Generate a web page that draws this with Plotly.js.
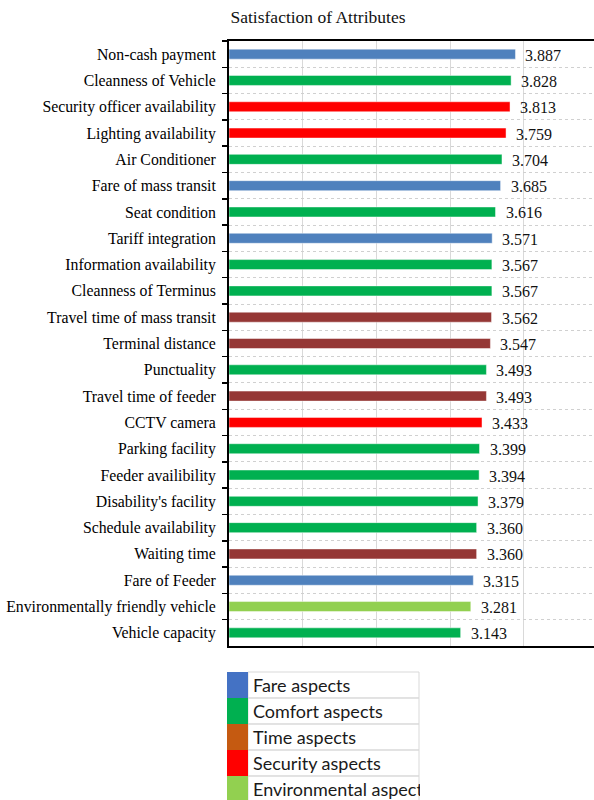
<!DOCTYPE html>
<html>
<head>
<meta charset="utf-8">
<script src="https://cdn.plot.ly/plotly-3.0.1.min.js"></script>
<style>
  html, body { margin: 0; padding: 0; background: #fff; }
  #chart { width: 594px; height: 800px; }
</style>
</head>
<body>
<div id="chart"></div>
<script>
// Attribute names, listed top to bottom
const attributes = [
  "Non-cash payment", "Cleanness of Vehicle", "Security officer availability",
  "Lighting availability", "Air Conditioner", "Fare of mass transit",
  "Seat condition", "Tariff integration", "Information availability",
  "Cleanness of Terminus", "Travel time of mass transit", "Terminal distance",
  "Punctuality", "Travel time of feeder", "CCTV camera", "Parking facility",
  "Feeder availibility", "Disability's facility", "Schedule availability",
  "Waiting time", "Fare of Feeder", "Environmentally friendly vehicle",
  "Vehicle capacity"
];

// Mean satisfaction score per attribute
const scores = [
  3.887, 3.828, 3.813, 3.759, 3.704, 3.685, 3.616, 3.571, 3.567, 3.567,
  3.562, 3.547, 3.493, 3.493, 3.433, 3.399, 3.394, 3.379, 3.360, 3.360,
  3.315, 3.281, 3.143
];

// Aspect group of each attribute
const aspects = [
  "Fare", "Comfort", "Security", "Security", "Comfort", "Fare", "Comfort",
  "Fare", "Comfort", "Comfort", "Time", "Time", "Comfort", "Time",
  "Security", "Comfort", "Comfort", "Comfort", "Comfort", "Time", "Fare",
  "Environmental", "Comfort"
];

// Legend entries
const legendLabels = ["Fare aspects", "Comfort aspects", "Time aspects", "Security aspects", "Environmental aspects"];

const barColors = {
  Fare: "#4f81bd",
  Comfort: "#00b050",
  Time: "#953735",
  Security: "#ff0000",
  Environmental: "#92d050"
};
const legendColors = ["#4472c4", "#00b050", "#c55a11", "#ff0000", "#92d050"];

const W = 594, H = 800;
const M = { l: 229, r: 0, t: 41, b: 154 };
const plotW = W - M.l - M.r;
const plotH = H - M.t - M.b;
const xMax = plotW / 73.7;

// pixel -> paper coordinate helpers for the legend block
const px = v => (v - M.l) / plotW;
const py = v => (H - M.b - v) / plotH;

const serif = "'Liberation Serif', 'Times New Roman', serif";
const sans = "Lato, 'Open Sans', sans-serif";

const trace = {
  type: "bar",
  orientation: "h",
  y: attributes,
  x: scores,
  marker: {
    color: aspects.map(a => barColors[a]),
    line: { color: "rgba(255,255,255,0.45)", width: 1 }
  },
  hoverinfo: "y+x",
  cliponaxis: false
};

const annotations = scores.map((v, i) => ({
  x: v,
  y: attributes[i],
  xref: "x",
  yref: "y",
  text: v.toFixed(3),
  showarrow: false,
  xanchor: "left",
  yanchor: "middle",
  xshift: 8,
  yshift: -1,
  font: { family: serif, size: 16, color: "#111" }
}));

const shapes = [];
legendLabels.forEach((lab, i) => {
  const top = 672 + 26 * i;
  const bot = top + 26;
  shapes.push({
    type: "rect", xref: "paper", yref: "paper",
    x0: px(248), x1: px(419), y0: py(top), y1: py(bot),
    line: { color: "#d9d9d9", width: 1 }, fillcolor: "rgba(0,0,0,0)", layer: "above"
  });
  shapes.push({
    type: "rect", xref: "paper", yref: "paper",
    x0: px(227), x1: px(248), y0: py(top), y1: py(bot),
    line: { width: 0 }, fillcolor: legendColors[i], layer: "above"
  });
  annotations.push({
    xref: "paper", yref: "paper",
    x: px(251), y: py(top + 13),
    xanchor: "left", yanchor: "middle",
    align: "left",
    text: lab, showarrow: false,
    font: { family: sans, size: 18, color: "#1a1a1a" }
  });
});

// the legend cell is narrower than its last label: mask the overflow
annotations.push({
  xref: "paper", yref: "paper",
  x: px(420), y: py(672 + 26 * 4 + 13),
  xanchor: "left", yanchor: "middle",
  text: " ", showarrow: false,
  width: 60, height: 26,
  bgcolor: "#ffffff", borderpad: 0, borderwidth: 0,
  font: { family: sans, size: 18 }
});

const layout = {
  width: W,
  height: H,
  margin: M,
  paper_bgcolor: "#ffffff",
  plot_bgcolor: "#ffffff",
  showlegend: false,
  bargap: 0.62,
  title: {
    text: "Satisfaction of Attributes",
    font: { family: serif, size: 17.5, color: "#111" },
    x: 318 / W,
    xanchor: "center",
    y: 1 - 17 / H,
    yanchor: "middle",
    xref: "container",
    yref: "container"
  },
  xaxis: {
    range: [0, xMax],
    dtick: 1,
    showticklabels: false,
    ticks: "",
    showgrid: true,
    gridcolor: "#d9d9d9",
    gridwidth: 1,
    zeroline: false,
    showline: true,
    linecolor: "#000",
    linewidth: 2,
    mirror: true,
    fixedrange: true
  },
  yaxis: {
    type: "category",
    autorange: "reversed",
    tickson: "boundaries",
    ticks: "outside",
    ticklen: 5,
    tickwidth: 1.5,
    tickcolor: "#000",
    ticklabelstandoff: 8,
    showgrid: true,
    gridcolor: "#d0d0d0",
    griddash: "dot",
    gridwidth: 1,
    showline: true,
    linecolor: "#000",
    linewidth: 2,
    zeroline: false,
    tickfont: { family: serif, size: 15.8, color: "#000" },
    fixedrange: true
  },
  shapes: shapes,
  annotations: annotations
};

Plotly.newPlot("chart", [trace], layout, { displayModeBar: false, staticPlot: true });
</script>
</body>
</html>
